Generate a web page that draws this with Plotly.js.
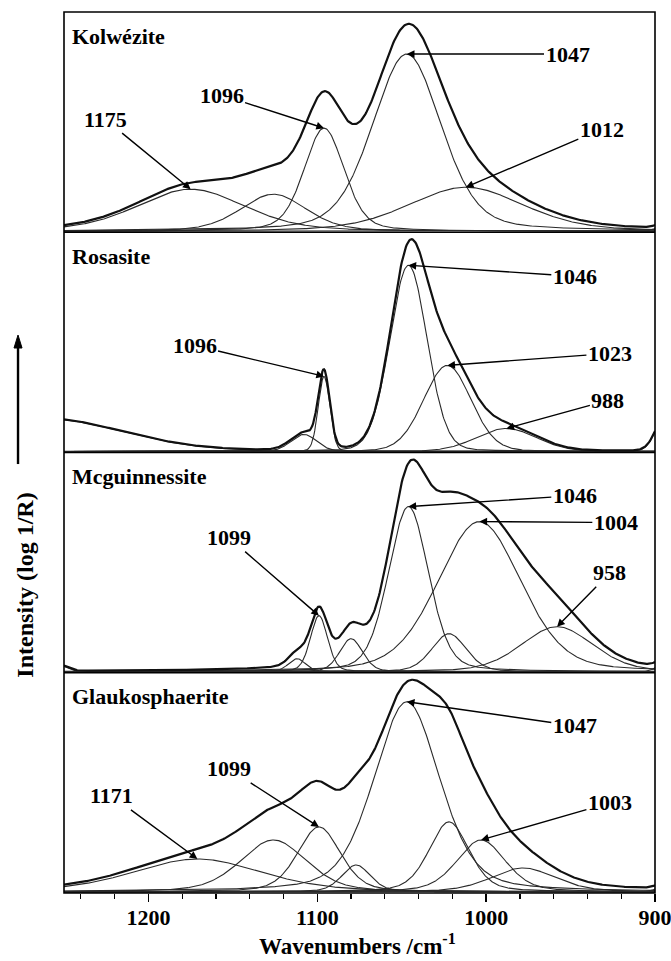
<!DOCTYPE html>
<html>
<head>
<meta charset="utf-8">
<script src="https://cdn.plot.ly/plotly-3.0.1.min.js"></script>
<style>html,body{margin:0;padding:0;background:#fff;}#chart{width:671px;height:961px;}</style>
</head>
<body>
<div id="chart"></div>
<script>
// ---- data (band centre /cm-1, peak height, FWHM /cm-1) ----
const minerals = ["Kolwézite", "Rosasite", "Mcguinnessite", "Glaukosphaerite"];
// Lorentzian fraction of the Gauss-Lorentz band shape, one per spectrum
const lorentzFraction = [0.3, 0.1, 0.25, 0.35];

const kolCenters = [1175, 1126, 1096, 1047, 1012, 893];
const kolHeights = [42, 37, 103, 177, 44, 10];
const kolFwhm    = [75, 46, 28, 48, 80, 10];
const kolLabels  = [1175, 1096, 1047, 1012];

const rosCenters = [1262, 1108, 1096, 1046, 1023, 988, 893];
const rosHeights = [33, 17, 75, 186, 86, 23, 40];
const rosFwhm    = [110, 18, 8, 26, 33, 42, 14];
const rosLabels  = [1096, 1046, 1023, 988];

const mcgCenters = [1252, 1112, 1099, 1080, 1046, 1022, 1004, 958, 895];
const mcgHeights = [6, 13, 56, 33, 165, 38, 150, 45, 8];
const mcgFwhm    = [10, 12, 12, 16, 28, 24, 58, 50, 10];
const mcgLabels  = [1099, 1046, 1004, 958];

const glaCenters = [1171, 1126, 1099, 1077, 1047, 1022, 1003, 978, 895];
const glaHeights = [33, 52, 65, 27, 190, 70, 52, 24, 6];
const glaFwhm    = [90, 46, 30, 20, 46, 28, 34, 45, 10];
const glaLabels  = [1171, 1099, 1047, 1003];

const xTickVals = [1200, 1100, 1000, 900];

// ---- label text placement (layout, in data units of each panel) ----
const labelTextPos = [
  [[1225.7, 112], [1156.7, 136], [951.8, 177], [931.5, 102]],
  [[1172.7, 106], [947.5, 175], [926.7, 98], [927.9, 51]],
  [[1152.3, 134], [947.5, 176], [923.2, 149], [926.7, 99]],
  [[1221.6, 96], [1152.3, 123], [947.5, 166], [926.7, 89]]
];

const panels = [
  {c: kolCenters, h: kolHeights, w: kolFwhm, labels: kolLabels},
  {c: rosCenters, h: rosHeights, w: rosFwhm, labels: rosLabels},
  {c: mcgCenters, h: mcgHeights, w: mcgFwhm, labels: mcgLabels},
  {c: glaCenters, h: glaHeights, w: glaFwhm, labels: glaLabels}
];

// evaluation grid for the band profiles
const grid = [];
for (let v = 1250; v >= 900; v -= 0.5) grid.push(v);

function bandProfile(c, h, fwhm, eta) {
  return grid.map(x => {
    const r = (x - c) / fwhm;
    const g = Math.exp(-4 * Math.LN2 * r * r);
    const l = 1 / (1 + 4 * r * r);
    return h * ((1 - eta) * g + eta * l);
  });
}

const FONT = "Liberation Serif, Times New Roman, serif";
const traces = [];
const annotations = [];
const layout = {
  width: 671, height: 961,
  margin: {l: 64, r: 16, t: 12, b: 68},
  paper_bgcolor: "#fff", plot_bgcolor: "#fff",
  showlegend: false,
  font: {family: FONT, color: "#000", size: 22},
  xaxis: {
    range: [1250, 900], anchor: "y4", domain: [0, 1],
    tickvals: xTickVals, ticks: "outside", ticklen: 8, tickwidth: 1.5, tickcolor: "#000",
    minor: {dtick: 20, tick0: 1000, ticks: "outside", ticklen: 5, tickwidth: 1.2, tickcolor: "#000"},
    showgrid: false, zeroline: false, showline: false,
    ticklabeloverflow: "allow", ticklabelstandoff: -3,
    tickfont: {family: FONT, size: 22, color: "#000", weight: "bold"}
  },
  shapes: [],
  annotations: annotations
};

const nP = panels.length;
panels.forEach((p, i) => {
  const yName = i === 0 ? "y" : "y" + (i + 1);
  const axKey = i === 0 ? "yaxis" : "yaxis" + (i + 1);
  const top = 1 - i / nP, bottom = 1 - (i + 1) / nP;
  layout[axKey] = {
    domain: [bottom, top], range: [-1, 219], visible: false, fixedrange: true
  };
  const sum = grid.map(() => 0);
  p.c.forEach((c, j) => {
    const y = bandProfile(c, p.h[j], p.w[j], lorentzFraction[i]);
    y.forEach((v, k) => sum[k] += v);
    traces.push({x: grid, y: y, xaxis: "x", yaxis: yName, mode: "lines",
      line: {color: "#2a2a2a", width: 1.1}, hoverinfo: "skip"});
  });
  traces.push({x: grid, y: sum, xaxis: "x", yaxis: yName, mode: "lines",
    line: {color: "#111", width: 2.2}, hoverinfo: "skip"});

  // mineral name
  annotations.push({text: minerals[i], xref: "paper", yref: yName + " domain",
    x: 0.01, y: 0.89, xanchor: "left", yanchor: "middle", showarrow: false,
    font: {family: FONT, size: 22, color: "#000", weight: "bold"}});

  // band labels with arrows pointing at the band maxima
  p.labels.forEach((lab, j) => {
    const idx = p.c.indexOf(lab);
    annotations.push({text: String(lab), xref: "x", yref: yName,
      x: p.c[idx], y: p.h[idx], axref: "x", ayref: yName,
      ax: labelTextPos[i][j][0], ay: labelTextPos[i][j][1],
      showarrow: true, arrowhead: 2, arrowsize: 1.1, arrowwidth: 1.4, arrowcolor: "#000",
      font: {family: FONT, size: 22, color: "#000", weight: "bold"}});
  });

  if (i < nP - 1) {
    layout.shapes.push({type: "line", xref: "paper", yref: "paper",
      x0: 0, x1: 1, y0: bottom, y1: bottom, line: {color: "#000", width: 1.6}});
  }
});

// outer frame
layout.shapes.push({type: "rect", xref: "paper", yref: "paper",
  x0: 0, x1: 1, y0: 0, y1: 1, line: {color: "#000", width: 1.6}});

// vertical arrow beside the intensity title
layout.shapes.push({type: "line", xref: "paper", yref: "paper",
  x0: -0.0778, x1: -0.0778, y0: 0.4869, y1: 0.6220, line: {color: "#000", width: 2.4}});
layout.shapes.push({type: "path", xref: "paper", yref: "paper",
  path: "M -0.0846 0.6186 L -0.0710 0.6186 L -0.0778 0.6333 Z",
  fillcolor: "#000", line: {color: "#000", width: 1}});

// axis titles
annotations.push({text: "Wavenumbers /cm<sup>-1</sup>", xref: "paper", yref: "paper",
  x: 0.497, y: -0.059, xanchor: "center", yanchor: "middle", showarrow: false,
  font: {family: FONT, size: 23, color: "#000", weight: "bold"}});
annotations.push({text: "Intensity (log 1/R)", xref: "paper", yref: "paper",
  x: -0.066, y: 0.35, xanchor: "center", yanchor: "middle", textangle: -90, showarrow: false,
  font: {family: FONT, size: 24, color: "#000", weight: "bold"}});

Plotly.newPlot("chart", traces, layout, {staticPlot: true, displayModeBar: false});
</script>
</body>
</html>
